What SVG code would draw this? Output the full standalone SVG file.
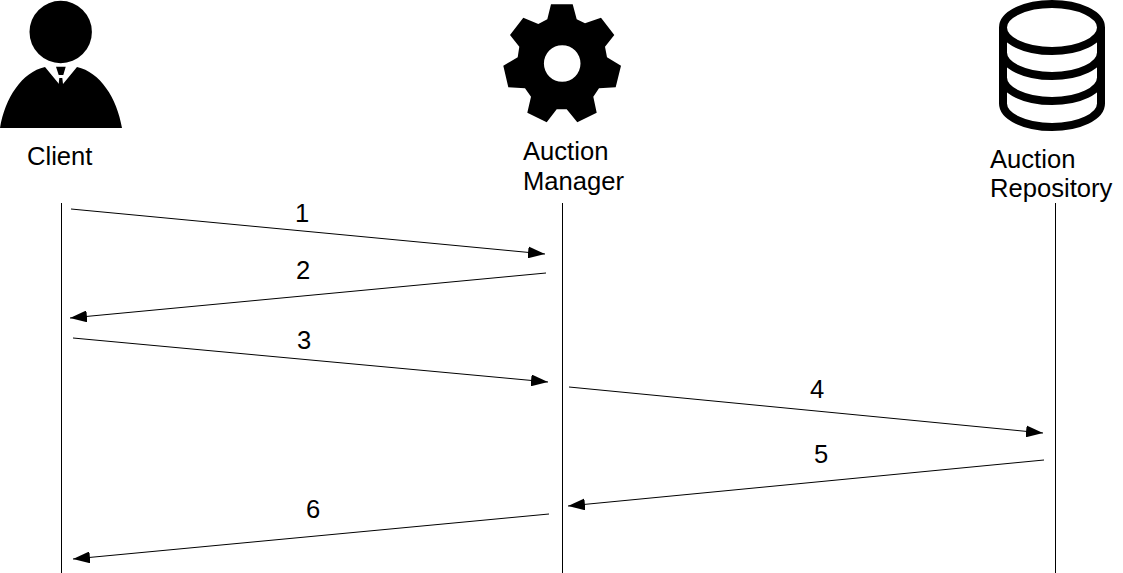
<svg xmlns="http://www.w3.org/2000/svg" width="1123" height="573" viewBox="0 0 1123 573">
<style>
text{font-family:"Liberation Sans",Arial,sans-serif;font-size:25.6px;fill:#000}
.life{stroke:#000;stroke-width:1;fill:none}
.msg{stroke:#000;stroke-width:1;fill:none;marker-end:url(#arrow)}
</style>
<defs>
<marker id="arrow" markerUnits="userSpaceOnUse" markerWidth="18" markerHeight="12" refX="17" refY="6" orient="auto" viewBox="0 0 18 12"><path d="M0 0L17 6L0 12Z" fill="#000"/></marker>
</defs>
<rect width="1123" height="573" fill="#fff"/>
<g id="client">
<circle cx="60.7" cy="32" r="31.2" fill="#000"/>
<path d="M0 128C5 98 22 72 45 67L59 84H63L77 67C100 72 117 98 122 128Z" fill="#000"/>
<path d="M56 66.7H65.7L63.3 75H58.7ZM59.3 78H62.3L63 84H58.7Z" fill="#000"/>
<text x="27" y="165">Client</text>
</g>
<g id="manager">
<path fill="#000" fill-rule="evenodd" d="M551 4.300H572.700L576.700 19.300L585 23.300L601 17.700L614.300 35L605 46.700L607 57.300L621 65.700L615.700 87.300L599 88.300L593.300 96.700L596.700 112.700L577.300 122.300L566.700 109.300H556.700L546.700 122.300L527.300 112.700L531 96.700L525 88.300L508.300 87.300L503.300 65.700L517.700 57.300L519.300 46.700L510 35L523.300 17.700L538.300 24L547.300 19.300ZM580.500 63.500A18.300 18.300 0 1 0 543.900 63.500A18.300 18.300 0 1 0 580.500 63.500Z"/>
<text x="523" y="160">Auction</text>
<text x="523" y="190">Manager</text>
</g>
<g id="repository">
<g fill="none" stroke="#000" stroke-width="8">
<ellipse cx="1052" cy="27.500" rx="49" ry="23.500"/>
<path d="M1003 27.500V103.500A49 23.500 0 0 0 1101 103.500V27.500"/>
<path d="M1003 52.500A49 23.500 0 0 0 1101 52.500"/>
<path d="M1003 77.500A49 23.500 0 0 0 1101 77.500"/>
</g>
<text x="990" y="168">Auction</text>
<text x="990" y="197">Repository</text>
</g>
<g id="connectors">
<path class="life" d="M61.500 203V573"/>
<path class="life" d="M562.500 203V573"/>
<path class="life" d="M1055.500 203V573"/>
<path class="msg" d="M71 209L545 254"/>
<path class="msg" d="M546 273L70 318"/>
<path class="msg" d="M73 338L548 382"/>
<path class="msg" d="M569 387L1043 433"/>
<path class="msg" d="M1044 460L568 506"/>
<path class="msg" d="M549 514L73 559"/>
</g>
<g id="labels">
<text x="295" y="222">1</text>
<text x="296" y="279">2</text>
<text x="297" y="349">3</text>
<text x="810" y="398">4</text>
<text x="814" y="463">5</text>
<text x="306" y="518">6</text>
</g>
</svg>
